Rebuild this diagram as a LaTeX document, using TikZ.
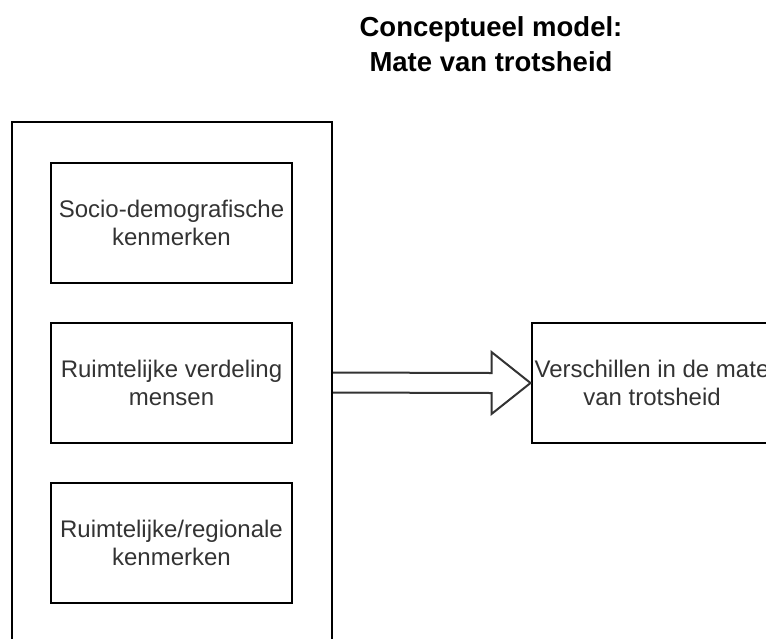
\documentclass[tikz,border=0pt]{standalone}
\usepackage{fontspec}
\setmainfont{Liberation Sans}
\usetikzlibrary{calc}

\begin{document}
\begin{tikzpicture}[x=1pt, y=-1pt,
	box/.style={draw=black, line width=2pt, minimum width=241pt, minimum height=120pt, inner sep=0pt, align=center, text=black!80, font=\fontsize{24}{28}\selectfont},
	frame/.style={draw=black, line width=2pt, minimum width=320.5pt, minimum height=521pt, inner sep=0pt},
	blockarrow/.style={draw=black!80, line width=2pt, line join=miter}]
	
	% CANVAS
	\clip (0,0) rectangle (766,638);
	
	% TITLE
	\node[font=\fontsize{27.5}{35}\selectfont\bfseries, align=center] (title) at (491,44) {Conceptueel model:\\Mate van trotsheid};
	
	% FACTORS
	\node[frame] (factors) at (171.75,382.5) {};
	\node[box] (socio) at (171.5,222.5) {Socio-demografische\\kenmerken};
	\node[box] (verdeling) at (171.5,383) {Ruimtelijke verdeling\\mensen};
	\node[box] (regio) at (171.5,543) {Ruimtelijke/regionale\\kenmerken};
	
	% OUTCOME
	\node[box] (verschil) at (652,383) {Verschillen in de mate\\van trotsheid};
	
	% ARROW
	\draw[blockarrow] ($(factors.east)+(0,-10)$) -- ($(verschil.west)+(-39,-10)$) -- ($(verschil.west)+(-39,-31)$) -- (verschil.west)
		-- ($(verschil.west)+(-39,31)$) -- ($(verschil.west)+(-39,10)$) -- ($(factors.east)+(0,10)$);
	
\end{tikzpicture}
\end{document}
